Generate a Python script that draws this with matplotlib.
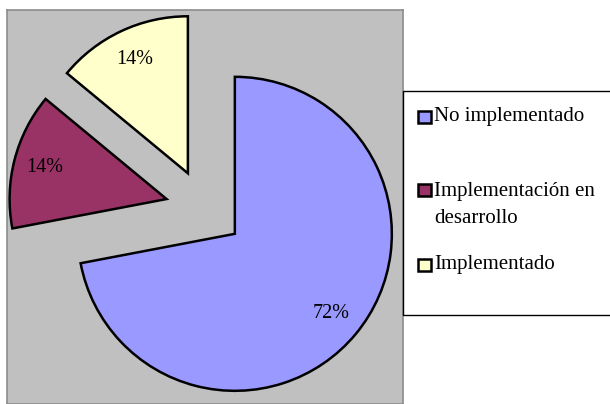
import matplotlib
matplotlib.use("Agg")
import matplotlib.pyplot as plt
from matplotlib.patches import Rectangle

plt.rcParams['font.family'] = ['Liberation Serif', 'DejaVu Serif']

# datos
categories = ["No implementado", "Implementación en desarrollo", "Implementado"]
legend_labels = ["No implementado", "Implementación en\ndesarrollo", "Implementado"]
values = [72, 14, 14]
colors = ["#9999FF", "#993366", "#FFFFCC"]

W, H = 610, 404
fig = plt.figure(figsize=(W / 100, H / 100), dpi=100)

# area del grafico (gris), en pixeles
left, right, top, bottom = 7, 403, 10, 404
cx, cy, r = 204.6, 208.8, 157.0  # centro y radio del pastel en pixeles

ax = fig.add_axes([left / W, 1 - bottom / H, (right - left) / W, (bottom - top) / H])
wedges, texts, autotexts = ax.pie(
    values, colors=colors, explode=[0.25] * len(values), startangle=90,
    counterclock=False, autopct='%1.0f%%', pctdistance=0.8,
    wedgeprops=dict(edgecolor='black', linewidth=1.8),
    textprops=dict(fontsize=14.5, color='black'))

ax.set_aspect('auto')
ax.set_xlim((left - cx) / r, (right - cx) / r)
ax.set_ylim((cy - bottom) / r, (cy - top) / r)
ax.set_frame_on(True)
ax.set_xticks([])
ax.set_yticks([])
ax.set_facecolor('#C0C0C0')
for s in ax.spines.values():
    s.set_color('#8C8C8C')
    s.set_linewidth(1.2)

# leyenda (caja estilo Excel)
def px(x, y):
    return x / W, 1 - y / H

box = Rectangle(px(403, 315), (620 - 403) / W, (315 - 91) / H, transform=fig.transFigure,
                facecolor='white', edgecolor='black', linewidth=1.0, clip_on=False)
fig.patches.append(box)

entry_y = [117, 190, 265]
for w, lab, y in zip(wedges, legend_labels, entry_y):
    sq = Rectangle(px(418, y + 6), 13 / W, 12 / H, transform=fig.transFigure,
                   facecolor=w.get_facecolor(), edgecolor='black', linewidth=1.8)
    fig.patches.append(sq)
    if '\n' in lab:
        fig.text(*px(434, y - 8), lab, fontsize=15, va='top', ha='left', linespacing=1.6)
    else:
        fig.text(*px(434, y), lab, fontsize=15, va='center', ha='left')

fig.savefig('out.png', dpi=100, facecolor='white')
